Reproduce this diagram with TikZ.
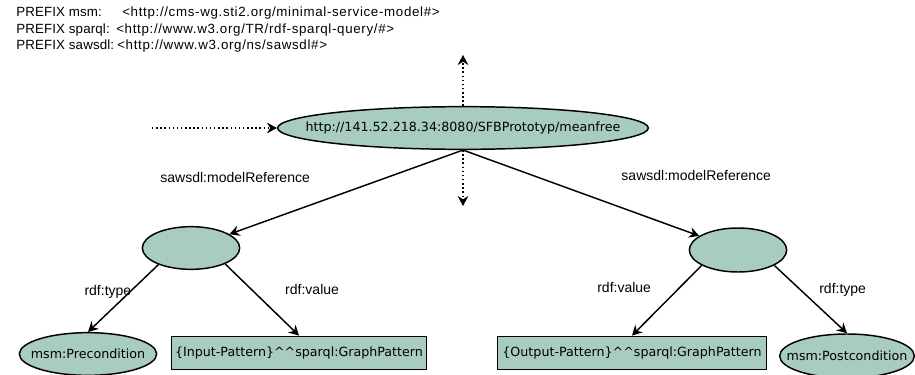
\documentclass[tikz,border=0pt]{standalone}
\usepackage{fontspec}
\setmainfont{DejaVu Sans}
\newfontfamily\headfont{Liberation Sans}
\newfontfamily\pfxfont[LetterSpace=1]{Liberation Sans}
\newfontfamily\urlfont[LetterSpace=5]{Liberation Sans}
\usepackage{tikz}
\usetikzlibrary{arrows.meta, positioning, shapes.geometric}
\definecolor{teal}{RGB}{169,204,193}

\tikzset{
  res/.style={ellipse, draw, line width=1.1pt, fill=teal, inner sep=0pt, font=\fontsize{9.5}{11}\selectfont},
  lit/.style={rectangle, draw, line width=1.1pt, fill=teal, inner sep=0pt, font=\fontsize{9.5}{11}\selectfont},
  rel/.style={-{Stealth[length=7.5pt, width=8pt, inset=2.5pt]}, line width=1.1pt},
  more/.style={rel, dotted},
  lbl/.style={font=\headfont\fontsize{10.5}{12}\selectfont, inner sep=0pt},
  pfx/.style={anchor=base west, inner sep=0pt, font=\pfxfont\fontsize{10}{12}\selectfont},
  uri/.style={anchor=base west, inner sep=0pt, font=\urlfont\fontsize{10}{12}\selectfont}
}

\begin{document}
\begin{tikzpicture}[x=0.75pt, y=-0.75pt]
    \useasboundingbox (0,0) rectangle (915,375);

    % Präfixe oben links
    \node[pfx] (pmsm) at (16,16.5) {PREFIX msm:};
    \node[uri] (umsm) at (122,16.5) {<http://cms-wg.sti2.org/minimal-service-model\#>};
    \node[pfx] (psparql) at (16,33) {PREFIX sparql:};
    \node[uri] (usparql) at (116,33) {<http://www.w3.org/TR/rdf-sparql-query/\#>};
    \node[pfx] (psawsdl) at (16,49.5) {PREFIX sawsdl:};
    \node[uri] (usawsdl) at (117,49.5) {<http://www.w3.org/ns/sawsdl\#>};

    % Dienst-Ressource
    \node[res, minimum width=278pt, minimum height=32pt] (root) at (463,128)
      {\makebox[0pt]{http://141.52.218.34:8080/SFBPrototyp/meanfree}};
    \coordinate (in) at (152,128);
    \coordinate (up) at (463,55);
    \coordinate (down) at (463,206);
    \draw[more] (in) -- (root.west);
    \draw[more] (root.north) -- (up);
    \draw[more] (root.south) -- (down);

    % leere Knoten
    \node[res, minimum width=73pt, minimum height=32pt] (pre) at (191,248) {};
    \node[res, minimum width=73pt, minimum height=33pt] (post) at (738,250) {};

    % Blätter
    \node[res, minimum width=103pt, minimum height=32pt] (prec) at (88,354)
      {\makebox[0pt]{msm:Precondition}};
    \node[lit, minimum width=191pt, minimum height=25pt] (inpat) at (299,353)
      {\{Input-Pattern\}\textasciicircum\textasciicircum sparql:GraphPattern};
    \node[lit, minimum width=202pt, minimum height=25pt] (outpat) at (632,353)
      {\{Output-Pattern\}\textasciicircum\textasciicircum sparql:GraphPattern};
    \node[res, minimum width=101pt, minimum height=33pt] (postc) at (847,356)
      {\makebox[0pt]{msm:Postcondition}};

    % Kanten
    \draw[rel] (root.south) -- (pre)
      node[lbl, midway, xshift=-83.3pt, yshift=11.3pt] {sawsdl:modelReference};
    \draw[rel] (root.south) -- (post)
      node[lbl, midway, xshift=86.3pt, yshift=12.8pt] {sawsdl:modelReference};
    \draw[rel] (pre.207) -- (prec.north)
      node[lbl, midway, xshift=-11.5pt, yshift=4.5pt] {rdf:type};
    \draw[rel] (pre.335) -- (inpat.north)
      node[lbl, midway, xshift=37.5pt, yshift=7.5pt] {rdf:value};
    \draw[rel] (post.203) -- (outpat.north)
      node[lbl, midway, xshift=-32pt, yshift=10pt] {rdf:value};
    \draw[rel] (post.337) -- (postc.north)
      node[lbl, midway, xshift=24pt, yshift=6.8pt] {rdf:type};
\end{tikzpicture}
\end{document}
